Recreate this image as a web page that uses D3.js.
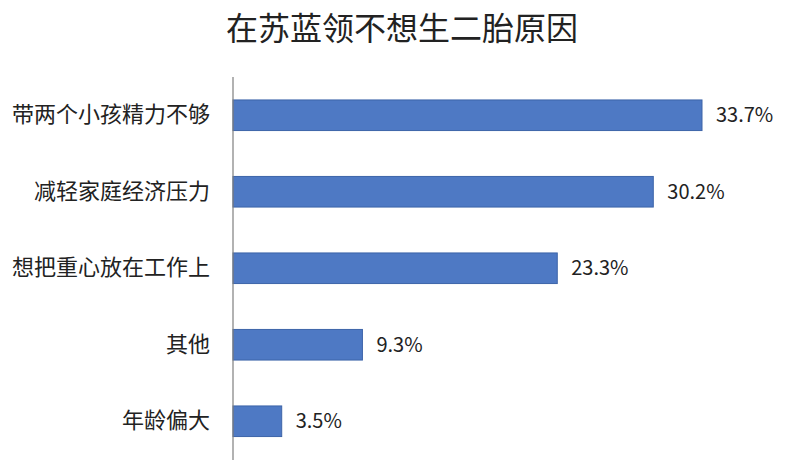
<!DOCTYPE html>
<html>
<head>
<meta charset="utf-8">
<script src="https://cdn.jsdelivr.net/npm/d3@7"></script>
<style>
  body { margin: 0; background: #fff; }
  text { font-family: "Noto Sans CJK SC", "Noto Sans", sans-serif; fill: #222; }
</style>
</head>
<body>
<div id="plot"></div>
<script>
const W = 799, H = 470;

// Data
const categories = ["带两个小孩精力不够", "减轻家庭经济压力", "想把重心放在工作上", "其他", "年龄偏大"];
const values = [33.7, 30.2, 23.3, 9.3, 3.5];
const title = "在苏蓝领不想生二胎原因";

const data = categories.map((c, i) => ({ cat: c, val: values[i] }));

const svg = d3.select("#plot")
  .append("svg")
    .attr("width", W)
    .attr("height", H);

// Title
svg.append("text")
  .attr("x", 402)
  .attr("y", 40)
  .attr("text-anchor", "middle")
  .style("font-size", "32px")
  .style("font-weight", 400)
  .text(title);

// Scales
const x = d3.scaleLinear()
  .domain([0, 40])
  .range([233, 233 + 469 / 33.7 * 40]);

const y = d3.scaleBand()
  .domain(categories)
  .range([77, 459.5])
  .paddingInner(0.6)
  .paddingOuter(0.3);

// Bars
svg.selectAll(".bar")
  .data(data)
  .join("rect")
    .attr("class", "bar")
    .attr("x", x(0))
    .attr("y", d => y(d.cat))
    .attr("width", d => x(d.val) - x(0))
    .attr("height", y.bandwidth())
    .attr("fill", "#4e79c4")
    .attr("stroke", "#3d64a8")
    .attr("stroke-width", 1);

// Y axis (line only, labels on left)
const yAxis = svg.append("g")
  .attr("transform", `translate(${x(0)},0)`)
  .call(d3.axisLeft(y).tickSize(0).tickPadding(23));
yAxis.select(".domain")
  .attr("stroke", "#7f7f7f")
  .attr("stroke-width", 1.2)
  .attr("d", `M0,77V460`);
yAxis.selectAll("text")
  .style("font-size", "22px")
  .attr("fill", "#222")
  .attr("font-family", "Noto Sans CJK SC");

// Value labels
svg.selectAll(".val")
  .data(data)
  .join("text")
    .attr("class", "val")
    .attr("x", d => x(d.val) + 14)
    .attr("y", d => y(d.cat) + y.bandwidth() / 2)
    .attr("dy", "0.36em")
    .style("font-size", "20px")
    .text(d => d.val.toFixed(1) + "%");
</script>
</body>
</html>
